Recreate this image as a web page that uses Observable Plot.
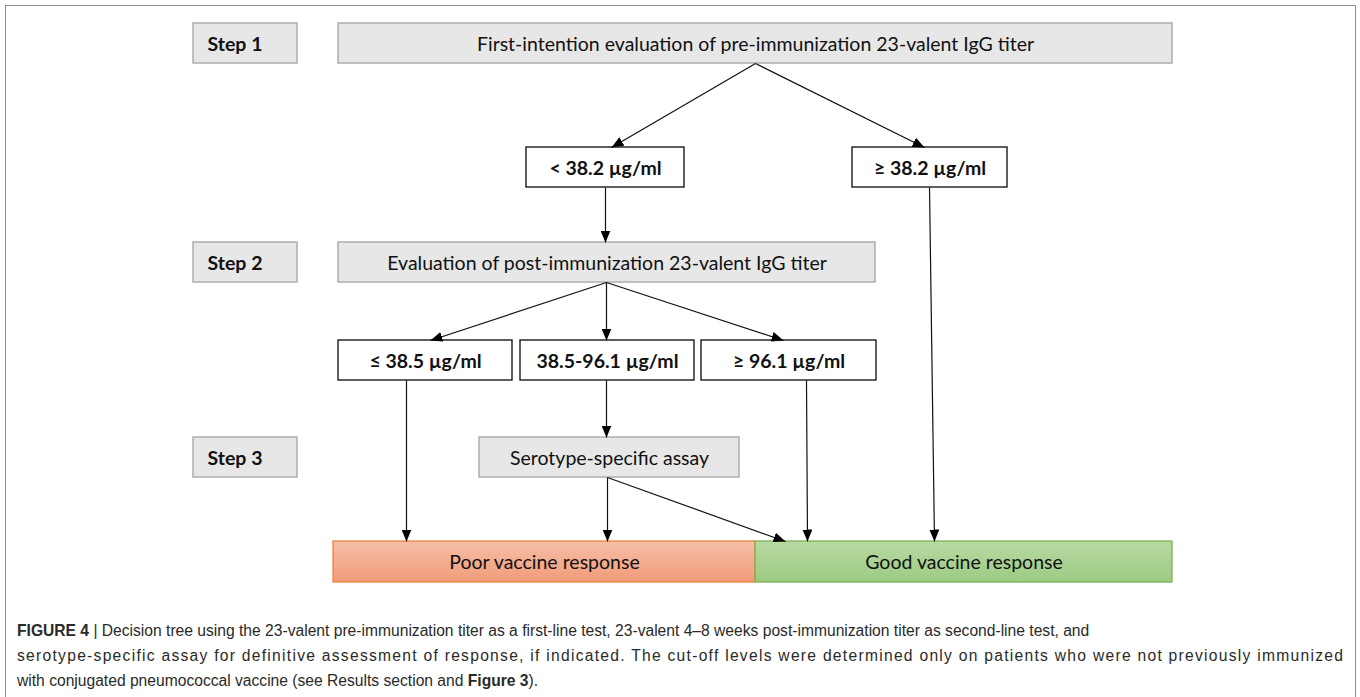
<!DOCTYPE html>
<html>
<head>
<meta charset="utf-8">
<script src="https://cdn.jsdelivr.net/npm/d3@7"></script>
<script src="https://cdn.jsdelivr.net/npm/@observablehq/plot@0.6"></script>
<style>
  html, body { margin: 0; padding: 0; background: #ffffff; }
  #frame { position: absolute; left: 5px; top: 5px; width: 1351px; height: 730px; border: 1.5px solid #8e8e8e; box-sizing: border-box; }
  #chart { position: absolute; left: 0; top: 0; }
  #caption { position: absolute; left: 0; top: 600px; }
</style>
</head>
<body>
<div id="frame"></div>
<div id="chart"></div>
<svg id="caption" width="1360" height="97"></svg>
<script>
// ---------------- data (content) ----------------
const stepLabels = ["Step 1", "Step 2", "Step 3"];
const stepTitles = [
  "First-intention evaluation of pre-immunization 23-valent IgG titer",
  "Evaluation of post-immunization 23-valent IgG titer",
  "Serotype-specific assay"
];
const preCutoffs = ["< 38.2 µg/ml", "≥ 38.2 µg/ml"];
const postCutoffs = ["≤ 38.5 µg/ml", "38.5-96.1 µg/ml", "≥ 96.1 µg/ml"];
const outcomes = ["Poor vaccine response", "Good vaccine response"];
const edgeList = [
  ["title0", "pre0"], ["title0", "pre1"],
  ["pre0", "title1"], ["pre1", "out1"],
  ["title1", "post0"], ["title1", "post1"], ["title1", "post2"],
  ["post0", "out0"], ["post1", "title2"], ["post2", "out1"],
  ["title2", "out0"], ["title2", "out1"]
];
const captionLines = [
  [["FIGURE 4", true], [" | Decision tree using the 23-valent pre-immunization titer as a first-line test, 23-valent 4–8 weeks post-immunization titer as second-line test, and", false]],
  [["serotype-specific assay for definitive assessment of response, if indicated. The cut-off levels were determined only on patients who were not previously immunized", false]],
  [["with conjugated pneumococcal vaccine (see Results section and ", false], ["Figure 3", true], [").", false]]
];

// ---------------- layout (diagram geometry, in layout units) ----------------
const rowBands = { A: [23, 63], B: [147, 187], C: [242, 282], D: [340, 380], E: [437, 477], F: [541, 582] };
const nodeLayout = {
  step0: ["A", 193, 297], step1: ["C", 193, 297], step2: ["E", 193, 297],
  title0: ["A", 338, 1172], title1: ["C", 338, 875], title2: ["E", 479, 739],
  pre0: ["B", 526, 684], pre1: ["B", 852, 1007],
  post0: ["D", 338, 512], post1: ["D", 520, 694], post2: ["D", 701, 876],
  out0: ["F", 333, 755], out1: ["F", 755, 1172]
};
// source x / target x of each connector
const edgePorts = {
  "title0>pre0": [755, 611], "title0>pre1": [755, 924],
  "pre0>title1": [605, 605], "pre1>out1": [929, 934],
  "title1>post0": [606, 430], "title1>post1": [606, 606], "title1>post2": [606, 783],
  "post0>out0": [406, 406], "post1>title2": [606, 606], "post2>out1": [806, 807],
  "title2>out0": [607, 607], "title2>out1": [607, 785]
};

// ---------------- build tables ----------------
function node(id, text, kind) {
  const [row, x1, x2] = nodeLayout[id];
  const [y1, y2] = rowBands[row];
  return { id, text, kind, x1, x2, y1, y2 };
}
const nodes = [
  ...stepLabels.map((t, i) => node("step" + i, t, "step")),
  ...stepTitles.map((t, i) => node("title" + i, t, "title")),
  ...preCutoffs.map((t, i) => node("pre" + i, t, "cut")),
  ...postCutoffs.map((t, i) => node("post" + i, t, "cut")),
  ...outcomes.map((t, i) => node("out" + i, t, "out" + i))
];
const byId = Object.fromEntries(nodes.map(n => [n.id, n]));
const edges = edgeList.map(([s, t]) => {
  const [sx, tx] = edgePorts[s + ">" + t];
  return { x1: sx, y1: byId[s].y2, x2: tx, y2: byId[t].y1 };
});

const W = 1360, H = 600;
const FONT = "Lato, 'Open Sans', 'DejaVu Sans', sans-serif";
const FS = 19.5;
const kind = k => nodes.filter(n => n.kind === k);
const cx = d => (d.x1 + d.x2) / 2;
const cy = d => (d.y1 + d.y2) / 2;

const chart = Plot.plot({
  width: W, height: H, margin: 0,
  x: { domain: [0, W], range: [0, W], axis: null },
  y: { domain: [0, H], range: [0, H], axis: null },
  marks: [
    Plot.rect(nodes.filter(n => n.kind === "step" || n.kind === "title"),
      { x1: "x1", x2: "x2", y1: "y1", y2: "y2", fill: "#e7e7e7", stroke: "#a8a8a8", strokeWidth: 1.4 }),
    Plot.rect(kind("cut"), { x1: "x1", x2: "x2", y1: "y1", y2: "y2", fill: "#ffffff", stroke: "#1a1a1a", strokeWidth: 1.4 }),
    Plot.rect(kind("out0"), { x1: "x1", x2: "x2", y1: "y1", y2: "y2", fill: "url(#gradPoor)", stroke: "#ed7d31", strokeWidth: 1.2 }),
    Plot.rect(kind("out1"), { x1: "x1", x2: "x2", y1: "y1", y2: "y2", fill: "url(#gradGood)", stroke: "#74b04b", strokeWidth: 1.2 }),
    Plot.link(edges, { x1: "x1", y1: "y1", x2: "x2", y2: "y2", stroke: "#111111", strokeWidth: 1.2, className: "edge" }),
    Plot.text(kind("step"), { x: d => d.x1 + 14, y: cy, text: "text", textAnchor: "start",
      fontFamily: FONT, fontWeight: "bold", fontSize: FS, fill: "#111111", dy: 1 }),
    Plot.text(kind("title"), { x: cx, y: cy, text: "text",
      fontFamily: FONT, fontSize: FS, fill: "#111111", dy: 1 }),
    Plot.text(kind("cut"), { x: cx, y: cy, text: "text",
      fontFamily: FONT, fontWeight: "bold", fontSize: FS, fill: "#111111", dy: 1 }),
    Plot.text(nodes.filter(n => n.kind.startsWith("out")), { x: cx, y: cy, text: "text",
      fontFamily: FONT, fontSize: FS, fill: "#111111", dy: 1 })
  ]
});

// defs: gradients and filled arrowheads
const svg = d3.select(chart);
const defs = svg.insert("defs", ":first-child");
const gPoor = defs.append("linearGradient").attr("id", "gradPoor").attr("x1", 0).attr("y1", 0).attr("x2", 0).attr("y2", 1);
gPoor.append("stop").attr("offset", "0%").attr("stop-color", "#f6bfa8");
gPoor.append("stop").attr("offset", "100%").attr("stop-color", "#f19b78");
const gGood = defs.append("linearGradient").attr("id", "gradGood").attr("x1", 0).attr("y1", 0).attr("x2", 0).attr("y2", 1);
gGood.append("stop").attr("offset", "0%").attr("stop-color", "#b8daa4");
gGood.append("stop").attr("offset", "100%").attr("stop-color", "#9ccb82");
defs.append("marker").attr("id", "ah").attr("viewBox", "0 0 10 10").attr("refX", 10).attr("refY", 5)
  .attr("markerWidth", 12).attr("markerHeight", 10).attr("markerUnits", "userSpaceOnUse")
  .attr("preserveAspectRatio", "none").attr("orient", "auto")
  .append("path").attr("d", "M0,0L10,5L0,10Z").attr("fill", "#000000");
svg.selectAll(".edge path").attr("marker-end", "url(#ah)");

document.getElementById("chart").appendChild(chart);

// caption: each bold / regular run is its own text element, laid out left to right
const cap = d3.select("#caption");
const CAP_FONT = "'Liberation Sans Narrow', 'Liberation Sans', Arial, sans-serif";
const capX = 17, capBase = [36, 61, 86];
const line1End = 1090, line2End = 1343;

function drawLine(parts, i, size, targetWidth) {
  let x = capX;
  const els = [];
  parts.forEach(([s, b]) => {
    const t = cap.append("text").attr("x", x).attr("y", capBase[i])
      .attr("font-family", CAP_FONT).attr("font-size", size)
      .attr("font-weight", b ? "bold" : "normal").attr("fill", "#2a2a2a")
      .attr("xml:space", "preserve").style("white-space", "pre").text(s);
    x += t.node().getComputedTextLength();
    els.push(t);
  });
  if (targetWidth && els.length === 1) {
    els[0].attr("textLength", targetWidth).attr("lengthAdjust", "spacing");
  }
  return x - capX;
}
// size the caption font so that the first line ends where it does in the figure
const probe = drawLine(captionLines[0], 0, 17);
cap.selectAll("text").remove();
const capSize = 17 * (line1End - capX) / probe;
drawLine(captionLines[0], 0, capSize);
drawLine(captionLines[1], 1, capSize, line2End - capX);
drawLine(captionLines[2], 2, capSize);
</script>
</body>
</html>
